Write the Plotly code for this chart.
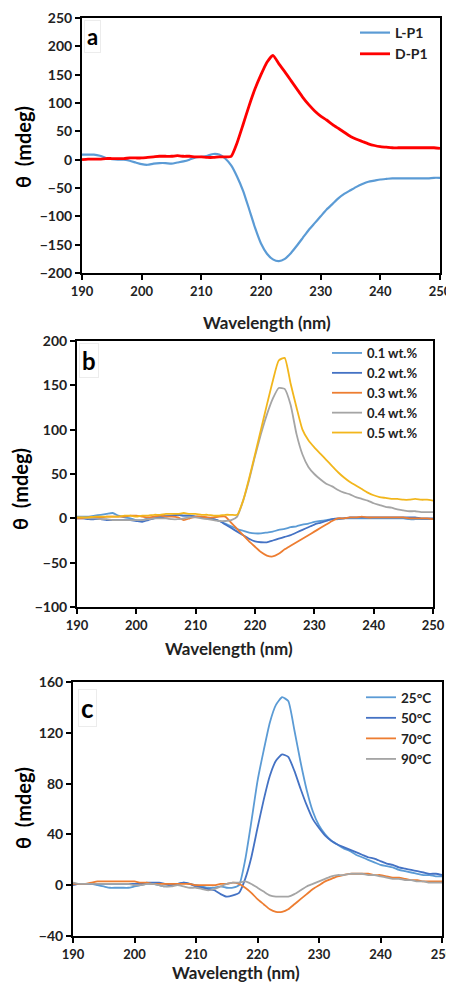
import plotly.graph_objects as go
from plotly.subplots import make_subplots

# wavelength grid (nm)
wavelength = list(range(190, 251))

# panel a
lp1 = [9, 9, 9, 7, 3, 1, 0, 0, -2, -5,
       -8, -9, -7, -6, -6, -7, -5, -3, 0, 4,
       5, 7, 10, 9, 2, -10, -30, -55, -87, -120,
       -148, -166, -176, -179, -175, -165, -152, -138, -124, -112,
       -100, -88, -78, -68, -60, -54, -48, -43, -39, -37,
       -35, -34, -33, -33, -33, -33, -33, -33, -33, -32, -32]
dp1 = [0, 1, 1, 1, 2, 2, 2, 2, 3, 3,
       3, 4, 5, 6, 6, 6, 7, 6, 6, 5,
       5, 4, 4, 5, 5, 6, 30, 62, 95, 125,
       150, 172, 184, 169, 155, 140, 125, 110, 97, 86,
       77, 70, 62, 55, 48, 41, 36, 32, 28, 25,
       23, 22, 21, 21, 21, 21, 21, 21, 21, 21, 20]

# panel b
wt01 = [2, 2, 2, 3, 4, 5, 6, 3, 1, 0,
        -2, -2, 0, 1, 2, 3, 3, 4, 3, 3,
        2, 1, 0, -1, -3, -6, -9, -12, -14, -16,
        -17, -17, -16, -15, -13, -12, -10, -9, -7, -6,
        -4, -3, -2, -1, -1, 0, 0, 0, 0, 0,
        0, 0, 0, 0, 0, 0, -1, -1, -1, -1, -1]
wt02 = [0, 0, -1, -1, -1, -2, -2, -2, -2, -2,
        -3, -4, -2, 0, 1, 2, 3, 4, 3, 3,
        2, 1, 0, -1, -3, -7, -11, -15, -19, -23,
        -26, -27, -27, -25, -23, -21, -19, -16, -13, -10,
        -7, -5, -3, -1, 0, 0, 1, 1, 1, 1,
        1, 1, 1, 1, 1, 1, 1, 1, 0, 0, 0]
wt03 = [0, 0, 1, 1, 1, 2, 2, 2, 2, 3,
        3, 2, 1, 2, 3, 2, 2, 1, -2, 0,
        2, 2, 1, 1, 2, 2, -5, -12, -19, -26,
        -32, -38, -42, -43, -40, -35, -31, -27, -23, -19,
        -15, -11, -7, -3, 0, 0, 1, 1, 2, 1,
        1, 1, 1, 1, 1, 1, 0, 0, 0, 0, -1]
wt04 = [1, 1, 0, 0, -1, -1, -2, -2, -2, -2,
        -2, -2, -1, 0, 0, 0, -1, -1, 0, 1,
        1, 0, -1, -2, -3, -3, -2, 2, 20, 43,
        70, 95, 117, 135, 147, 146, 128, 95, 72, 58,
        50, 44, 39, 36, 32, 29, 27, 24, 22, 20,
        17, 15, 13, 12, 10, 9, 8, 8, 7, 7, 7]
wt05 = [1, 1, 1, 2, 2, 2, 2, 2, 3, 3,
        2, 3, 3, 4, 4, 5, 5, 5, 6, 5,
        5, 4, 4, 3, 3, 4, 4, 4, 20, 45,
        72, 100, 128, 155, 178, 181, 152, 125, 100, 88,
        80, 73, 66, 59, 52, 46, 41, 37, 33, 29,
        26, 24, 23, 22, 22, 21, 21, 22, 21, 21, 20]

# panel c
t25 = [1, 1, 1, 1, 0, -1, -2, -2, -2, -2,
       -1, 0, 1, 1, 0, -1, 0, 1, 2, 1,
       0, -1, -2, -2, -1, -2, -2, 0, 20, 50,
       82, 106, 128, 142, 148, 145, 122, 97, 75, 58,
       47, 40, 35, 32, 29, 27, 24, 22, 20, 18,
       16, 15, 14, 12, 11, 10, 9, 8, 8, 7, 7]
t50 = [0, 1, 1, 1, 1, 1, 1, 1, 1, 1,
       1, 1, 2, 2, 2, 1, 0, 1, 2, 1,
       -1, -2, -3, -4, -7, -9, -8, -6, 5, 22,
       45, 67, 86, 98, 103, 101, 90, 76, 63, 52,
       45, 39, 35, 32, 30, 28, 26, 24, 22, 21,
       19, 17, 16, 14, 13, 12, 11, 10, 9, 9, 8]
t70 = [1, 1, 1, 2, 3, 3, 3, 3, 3, 3,
       3, 2, 2, 1, 1, 1, 1, 1, 1, 1,
       0, 0, 0, 0, 1, 1, 2, 1, -2, -6,
       -11, -15, -19, -21, -21, -19, -15, -11, -7, -3,
       0, 3, 5, 7, 8, 9, 9, 9, 9, 8,
       8, 7, 6, 6, 5, 4, 4, 3, 3, 3, 3]
t90 = [2, 1, 1, 1, 1, 1, 1, 1, 1, 1,
       0, 0, 1, 1, 0, -1, -1, 0, -1, -2,
       -2, -3, -4, -3, -1, 1, 2, 2, 3, 1,
       -2, -5, -8, -9, -9, -9, -7, -4, -1, 1,
       3, 5, 7, 8, 8, 9, 9, 9, 8, 8,
       7, 6, 5, 5, 4, 4, 3, 3, 2, 2, 2]

# the page body has an 8px margin, so the figure is drawn 8px smaller
OFF = 8
W, H = 454 - OFF, 985 - OFF - 1
FONT = "Lato"


def px(x):
    return (x - OFF) / W


def py(y):
    return 1 - (y - OFF) / H


fig = make_subplots(rows=3, cols=1)

panels = [
    (1, "legend", [("L-P1", lp1, "#5B9BD5", 2.2), ("D-P1", dp1, "#FF0000", 2.8)]),
    (2, "legend2", [("0.1 wt.%", wt01, "#5B9BD5", 1.8), ("0.2 wt.%", wt02, "#4472C4", 1.8),
                    ("0.3 wt.%", wt03, "#ED7D31", 1.8), ("0.4 wt.%", wt04, "#A5A5A5", 1.8),
                    ("0.5 wt.%", wt05, "#F2B61C", 1.8)]),
    (3, "legend3", [("25°C", t25, "#5B9BD5", 1.8), ("50°C", t50, "#4472C4", 1.8),
                    ("70°C", t70, "#ED7D31", 1.8), ("90°C", t90, "#A5A5A5", 1.8)]),
]
for row, leg, series in panels:
    for name, vals, color, w in series:
        fig.add_trace(go.Scatter(x=wavelength, y=vals, name=name, mode="lines",
                                 line=dict(color=color, width=w, shape="spline", smoothing=0.5),
                                 legend=leg), row=row, col=1)

# plot boxes in page pixels: (left, right, top, bottom)
boxes = [(82, 440, 18, 273), (77, 433, 341, 607), (73, 442, 682, 936)]
yranges = [(-200, 250, 50), (-100, 200, 50), (-40, 160, 40)]
for i, ((l, r, t, b), (y0, y1, dy)) in enumerate(zip(boxes, yranges), start=1):
    fig.update_xaxes(domain=[px(l), px(r)], range=[190, 250], dtick=10, row=i, col=1)
    fig.update_yaxes(domain=[py(b), py(t)], range=[y0, y1], dtick=dy, row=i, col=1)

axis_style = dict(showgrid=False, zeroline=False, showline=True, mirror=True,
                  linecolor="black", linewidth=2, ticks="outside", ticklen=5,
                  tickcolor="black", tickwidth=1.5, automargin=False,
                  ticklabeloverflow="allow")
fig.update_xaxes(**axis_style, tickfont=dict(family=FONT, size=13, color="#222", weight="bold"))
fig.update_yaxes(**axis_style, tickfont=dict(family=FONT, size=14, color="#222", weight="bold"))

ann = []
# axis titles
for xc, yc in [(267, 322), (229, 648), (236, 972)]:
    ann.append(dict(text="Wavelength (nm)", x=px(xc), y=py(yc), xref="paper", yref="paper",
                    xanchor="center", yanchor="middle", showarrow=False,
                    font=dict(family=FONT, size=17, color="#222", weight="bold")))
for xc, yc in [(23, 147), (20, 489), (23, 808)]:
    ann.append(dict(text="θ\u00a0\u00a0(mdeg)", x=px(xc), y=py(yc), xref="paper", yref="paper",
                    xanchor="center", yanchor="middle", textangle=-90, showarrow=False,
                    font=dict(family=FONT, size=20, color="black", weight="bold")))
# panel letters
for letter, x, y, size in [("a", 84, 20, 22), ("b", 79, 343, 24), ("c", 78, 689, 26)]:
    ann.append(dict(text=letter, x=px(x), y=py(y), xref="paper", yref="paper",
                    xanchor="left", yanchor="top", showarrow=False,
                    bgcolor="white", bordercolor="#ececec", borderwidth=1, borderpad=2,
                    font=dict(family=FONT, size=size, color="black", weight="bold")))


def legfont(size):
    return dict(family=FONT, size=size, color="#222", weight="bold")


fig.update_layout(
    width=W, height=H, margin=dict(l=0, r=0, t=0, b=0),
    paper_bgcolor="white", plot_bgcolor="white",
    annotations=ann,
    legend=dict(x=px(433), y=py(17), xanchor="right", yanchor="top",
                bgcolor="rgba(0,0,0,0)", font=legfont(14), tracegroupgap=0),
    legend2=dict(x=px(423), y=py(338), xanchor="right", yanchor="top",
                 bgcolor="rgba(0,0,0,0)", font=legfont(13), tracegroupgap=0),
    legend3=dict(x=px(437), y=py(682), xanchor="right", yanchor="top",
                 bgcolor="rgba(0,0,0,0)", font=legfont(13.5), tracegroupgap=0),
)

fig.write_html("out.html")
